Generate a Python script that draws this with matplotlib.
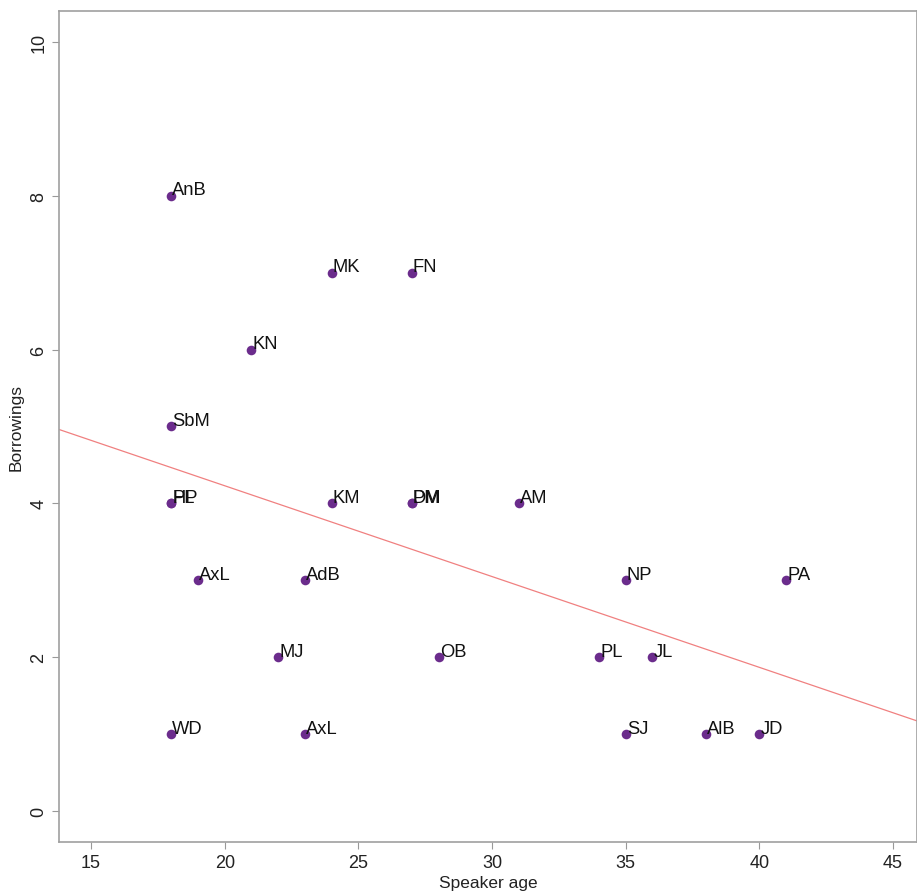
import matplotlib
matplotlib.use("Agg")
import matplotlib.pyplot as plt

plt.rcParams['font.family'] = ['Liberation Sans', 'DejaVu Sans']

ages = [18, 24, 27, 21, 18, 18, 18, 24, 27, 27, 31, 19, 23, 35, 41, 22, 28, 34, 36, 18, 23, 35, 38, 40]
borrowings = [8, 7, 7, 6, 5, 4, 4, 4, 4, 4, 4, 3, 3, 3, 3, 2, 2, 2, 2, 1, 1, 1, 1, 1]
speakers = ["AnB", "MK", "FN", "KN", "SbM", "PL", "HP", "KM", "DM", "PM", "AM", "AxL", "AdB", "NP", "PA",
            "MJ", "OB", "PL", "JL", "WD", "AxL", "SJ", "AlB", "JD"]
fit_intercept = 6.59
fit_slope = -0.118

fig = plt.figure(figsize=(9.17, 8.95), dpi=100)
ax = fig.add_axes([0.0643, 0.0581, 0.9357, 0.9285])

ax.scatter(ages, borrowings, s=48, color="#6b2c8c", zorder=3, linewidths=0)
for x, y, s in zip(ages, borrowings, speakers):
    ax.annotate(s, (x, y), xytext=(0.8, 4.5), textcoords="offset points",
                fontsize=13.2, color="#111111", ha="left", va="center", zorder=4)

ax.axline((0, fit_intercept), slope=fit_slope, color="#f08080", lw=0.9, zorder=2)

ax.set_xlim(13.8, 45.9)
ax.set_ylim(-0.4, 10.4)
ax.set_xticks([15, 20, 25, 30, 35, 40, 45])
ax.set_yticks([0, 2, 4, 6, 8, 10])
ax.tick_params(axis="both", colors="#999999", labelcolor="#222222", labelsize=13, length=5, width=0.8)
for lab in ax.get_yticklabels():
    lab.set_rotation(90)
    lab.set_va("center")
for sp in ax.spines.values():
    sp.set_color("#a0a0a0")
    sp.set_linewidth(1.2)
ax.set_xlabel("Speaker age", fontsize=12.5, color="#222222", labelpad=3)
ax.set_ylabel("Borrowings", fontsize=12.5, color="#222222", labelpad=5)

fig.savefig("out.png", dpi=100)
